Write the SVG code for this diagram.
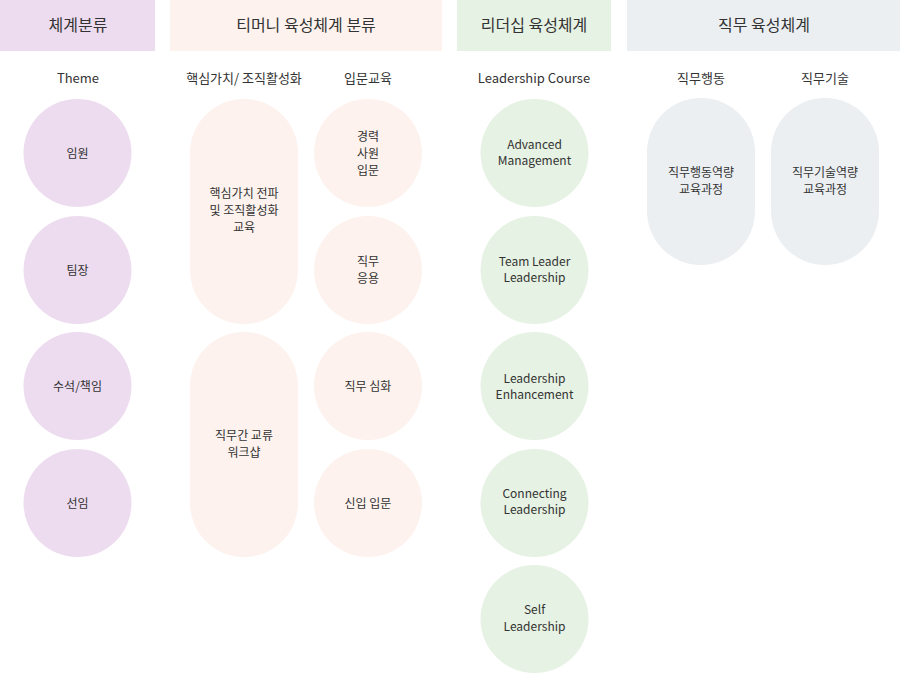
<svg xmlns="http://www.w3.org/2000/svg" width="900" height="674" viewBox="0 0 900 674">
<style>
text{font-family:"Noto Sans CJK KR","Noto Sans",sans-serif;fill:#333;text-anchor:middle}
.h{font-size:16px}
.s{font-size:13px}
.n{font-size:12px}
.p{fill:#eddcef}
.e{fill:#fdf2ed}
.g{fill:#e6f2e3}
.b{fill:#ebeff2}
</style>
<rect width="900" height="674" fill="#fff"/>
<g id="headers">
<rect class="p" x="0" y="0" width="155" height="51"/>
<text class="h" x="78" y="31">체계분류</text>
<rect class="e" x="170" y="0" width="272" height="51"/>
<text class="h" x="306" y="31">티머니 육성체계 분류</text>
<rect class="g" x="457" y="0" width="154" height="51"/>
<text class="h" x="534" y="31">리더십 육성체계</text>
<rect class="b" x="627" y="0" width="273" height="51"/>
<text class="h" x="764" y="31">직무 육성체계</text>
</g>
<g id="subheaders">
<text class="s" x="78" y="83">Theme</text>
<text class="s" x="244" y="83">핵심가치/ 조직활성화</text>
<text class="s" x="368" y="83">입문교육</text>
<text class="s" x="534" y="83">Leadership Course</text>
<text class="s" x="701" y="83">직무행동</text>
<text class="s" x="825" y="83">직무기술</text>
</g>
<g id="theme">
<g id="n-imwon"><circle class="p" cx="77.5" cy="153" r="54"/><text class="n" x="77.5" y="158">임원</text></g>
<g id="n-timjang"><circle class="p" cx="77.5" cy="270" r="54"/><text class="n" x="77.5" y="275">팀장</text></g>
<g id="n-suseok"><circle class="p" cx="77.5" cy="386" r="54"/><text class="n" x="77.5" y="391">수석/책임</text></g>
<g id="n-seonim"><circle class="p" cx="77.5" cy="503" r="54"/><text class="n" x="77.5" y="508">선임</text></g>
</g>
<g id="core">
<g id="n-core1"><rect class="e" x="190" y="99" width="108" height="225" rx="54"/>
<text class="n" x="244" y="198">핵심가치 전파</text><text class="n" x="244" y="215">및 조직활성화</text><text class="n" x="244" y="232">교육</text></g>
<g id="n-core2"><rect class="e" x="190" y="332" width="108" height="225" rx="54"/>
<text class="n" x="244" y="440">직무간 교류</text><text class="n" x="244" y="457">워크샵</text></g>
</g>
<g id="intro">
<g id="n-career"><circle class="e" cx="368" cy="153" r="54"/><text class="n" x="368" y="141">경력</text><text class="n" x="368" y="158">사원</text><text class="n" x="368" y="175">입문</text></g>
<g id="n-apply"><circle class="e" cx="368" cy="270" r="54"/><text class="n" x="368" y="266">직무</text><text class="n" x="368" y="283">응용</text></g>
<g id="n-deep"><circle class="e" cx="368" cy="386" r="54"/><text class="n" x="368" y="391">직무 심화</text></g>
<g id="n-new"><circle class="e" cx="368" cy="503" r="54"/><text class="n" x="368" y="508">신입 입문</text></g>
</g>
<g id="leadership">
<g id="n-adv"><circle class="g" cx="534.5" cy="153" r="54"/><text class="n" x="534.5" y="149">Advanced</text><text class="n" x="534.5" y="165">Management</text></g>
<g id="n-team"><circle class="g" cx="534.5" cy="270" r="54"/><text class="n" x="534.5" y="266">Team Leader</text><text class="n" x="534.5" y="282">Leadership</text></g>
<g id="n-enh"><circle class="g" cx="534.5" cy="386" r="54"/><text class="n" x="534.5" y="383">Leadership</text><text class="n" x="534.5" y="399">Enhancement</text></g>
<g id="n-conn"><circle class="g" cx="534.5" cy="503" r="54"/><text class="n" x="534.5" y="498">Connecting</text><text class="n" x="534.5" y="514">Leadership</text></g>
<g id="n-self"><circle class="g" cx="534.5" cy="619" r="54"/><text class="n" x="534.5" y="614">Self</text><text class="n" x="534.5" y="631">Leadership</text></g>
</g>
<g id="job">
<g id="n-behav"><rect class="b" x="647" y="98" width="108" height="167" rx="54"/><text class="n" x="701" y="177">직무행동역량</text><text class="n" x="701" y="194">교육과정</text></g>
<g id="n-skill"><rect class="b" x="771" y="98" width="108" height="167" rx="54"/><text class="n" x="825" y="177">직무기술역량</text><text class="n" x="825" y="194">교육과정</text></g>
</g>
<g id="connectors"/>
</svg>
